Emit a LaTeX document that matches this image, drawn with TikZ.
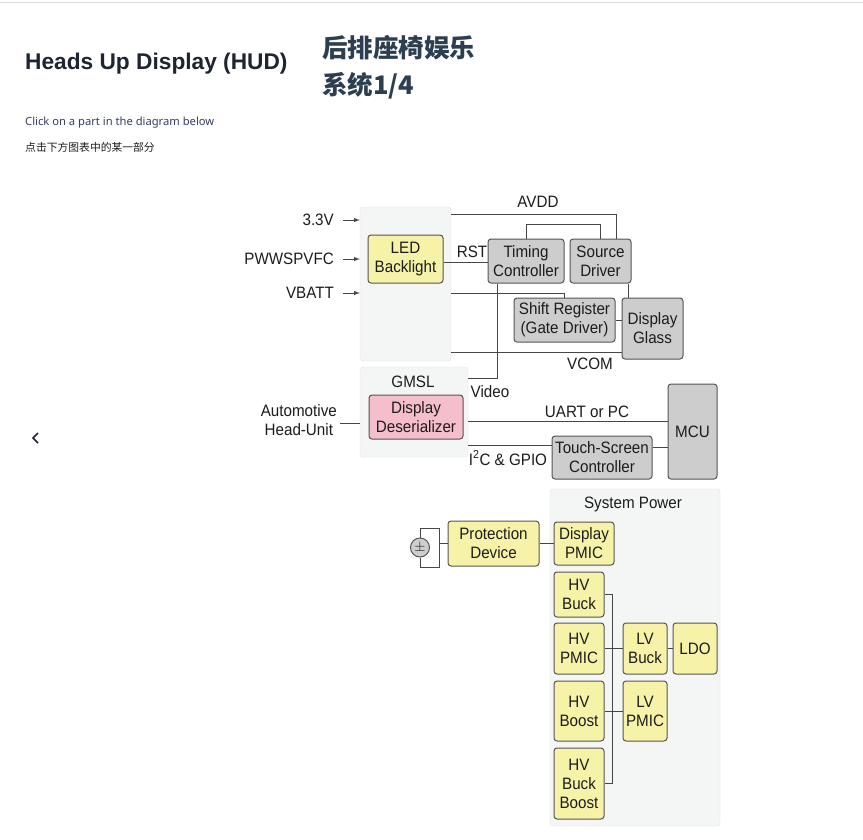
\documentclass[tikz,border=0pt]{standalone}
\usepackage{fontspec}
\usepackage{tikz}
\usetikzlibrary{arrows,shapes,positioning}

\newfontfamily\diagfont[FakeStretch=0.92]{Liberation Sans}
\newfontfamily\headfont{Noto Sans}
\newfontfamily\headboldfont{Liberation Sans}
\newfontfamily\cjkfont{Noto Sans CJK SC}

\definecolor{panelfill}{RGB}{244,245,245}
\definecolor{panelline}{RGB}{226,228,228}
\definecolor{yelfill}{RGB}{246,243,168}
\definecolor{grayfill}{RGB}{205,205,205}
\definecolor{pinkfill}{RGB}{244,190,203}
\definecolor{boxline}{RGB}{85,85,85}
\definecolor{wirecol}{RGB}{70,70,70}
\definecolor{inkcol}{RGB}{28,28,28}
\definecolor{headcol}{RGB}{30,37,48}
\definecolor{hintcol}{RGB}{52,62,96}
\definecolor{cjkcol}{RGB}{44,62,80}
\definecolor{rulecol}{RGB}{222,222,222}

\begin{document}
\begin{tikzpicture}[
        x=1pt, y=-1pt,
        every node/.style={inner sep=0, text=inkcol},
        diagtext/.style={font=\diagfont\fontsize{16.5}{19}\selectfont, align=center},
        panel/.style={draw=panelline, fill=panelfill, rounded corners=3pt},
        blockbox/.style={diagtext, draw=boxline, line width=1pt, rounded corners=3pt},
        yelbox/.style={blockbox, fill=yelfill},
        graybox/.style={blockbox, fill=grayfill},
        pinkbox/.style={blockbox, fill=pinkfill},
        wire/.style={draw=wirecol, line width=1pt},
        feed/.style={wire, ->, >=latex}
    ]
    \useasboundingbox (0,0) rectangle (863,839);
    \fill[white] (0,0) rectangle (863,839);
    \draw[rulecol, line width=1.2pt] (0,2.5) -- (863,2.5);

    % Headings
    \node (title) [anchor=west, text=headcol, font=\headboldfont\bfseries\fontsize{22.7}{26}\selectfont] at (25,64) {Heads Up Display (HUD)};
    \node (cjktop) [anchor=west, text=cjkcol, font=\cjkfont\bfseries\fontsize{25.5}{28}\selectfont] at (322,48) {后排座椅娱乐};
    \node (cjkbot) [anchor=west, text=cjkcol, font=\cjkfont\bfseries\fontsize{25.5}{28}\selectfont] at (322,86) {系统1/4};
    \node (hint) [anchor=west, text=hintcol, font=\headfont\fontsize{11.2}{13}\selectfont] at (25,123) {Click on a part in the diagram below};
    \node (cjkhint) [anchor=west, font=\cjkfont\fontsize{10.8}{12}\selectfont] at (25,147) {点击下方图表中的某一部分};
    \draw[headcol, line width=1.6pt] (38,433) -- (33,438) -- (38,443);

    % Panels
    \node (panel) [panel, minimum width=91, minimum height=154] at (405.5,284) {};
    \node (gmsl) [panel, minimum width=108, minimum height=90] at (414,412) {};
    \node (syspow) [panel, minimum width=170, minimum height=337] at (635,657.5) {};

    % Display blocks
    \node (led) [yelbox, minimum width=75, minimum height=48] at (405.5,259) {LED\\Backlight};
    \node (tcon) [graybox, minimum width=76, minimum height=44] at (526,261) {Timing\\Controller};
    \node (srcdrv) [graybox, minimum width=61, minimum height=44, right=5pt of tcon] {Source\\Driver};
    \node (shiftreg) [graybox, minimum width=101, minimum height=44] at (564.5,320) {Shift Register\\(Gate Driver)};
    \node (glass) [graybox, minimum width=61, minimum height=61] at (652.5,328.5) {Display\\Glass};
    \node (deser) [pinkbox, minimum width=94, minimum height=44] at (416,417) {Display\\Deserializer};
    \node (touch) [graybox, minimum width=100, minimum height=43] at (602,457.5) {Touch-Screen\\Controller};
    \node (mcu) [graybox, minimum width=49, minimum height=95] at (692.5,431.5) {MCU};

    % Power blocks
    \node (protect) [yelbox, minimum width=91, minimum height=45] at (493.5,543.5) {Protection\\Device};
    \node (dpmic) [yelbox, minimum width=60, minimum height=43] at (584,543.5) {Display\\PMIC};
    \node (hvbuck) [yelbox, minimum width=50, minimum height=45] at (579,594.5) {HV\\Buck};
    \node (hvpmic) [yelbox, minimum width=50, minimum height=51] at (579,648.5) {HV\\PMIC};
    \node (hvboost) [yelbox, minimum width=50, minimum height=60] at (579,711) {HV\\Boost};
    \node (hvbb) [yelbox, minimum width=50, minimum height=71] at (579,783.5) {HV\\Buck\\Boost};
    \node (lvbuck) [yelbox, minimum width=44, minimum height=51, right=18pt of hvpmic] {LV\\Buck};
    \node (ldo) [yelbox, minimum width=44, minimum height=51, right=5pt of lvbuck] {LDO};
    \node (lvpmic) [yelbox, minimum width=44, minimum height=60, right=18pt of hvboost] {LV\\PMIC};
    \node (batt) [circle, draw=boxline, line width=1pt, fill=grayfill, minimum size=19, font=\fontsize{15}{10}\selectfont] at (420,547.5) {$\pm$};

    % Labels
    \node (v33) [diagtext, anchor=east] at (334,220) {3.3V};
    \node (pwm) [diagtext, anchor=east] at (334,259) {PWWSPVFC};
    \node (vbatt) [diagtext, anchor=east] at (334,293) {VBATT};
    \node (hu) [diagtext, anchor=east] at (337,420.5) {Automotive\\Head-Unit};
    \node (avdd) [diagtext] at (538,202) {AVDD};
    \node (rst) [diagtext] at (472,252) {RST};
    \node (vcom) [diagtext] at (590,364) {VCOM};
    \node (video) [diagtext] at (490,392) {Video};
    \node (uart) [diagtext] at (587,412) {UART or PC};
    \node (iic) [diagtext] at (508,458) {I\textsuperscript{2}C \& GPIO};
    \node (gmsllbl) [diagtext] at (413,382) {GMSL};
    \node (powlbl) [diagtext] at (633,504) {System Power};

    % Inputs
    \draw[feed] ([xshift=9pt]v33.east) -- (v33.east -| panel.west);
    \draw[feed] ([xshift=9pt]pwm.east) -- (pwm.east -| panel.west);
    \draw[feed] ([xshift=9pt]vbatt.east) -- (vbatt.east -| panel.west);

    % Display wiring
    \draw[wire] ([yshift=-8pt]panel.north east) -| ([xshift=-15pt]srcdrv.north east);
    \draw[wire] (tcon.north) -- ++(0,-14) -| (srcdrv.north);
    \draw[wire] ([yshift=-3pt]led.east) -- ([yshift=-3pt]led.east -| tcon.west);
    \draw[wire] (panel.east |- vbatt) -| (shiftreg.north);
    \draw[wire] (shiftreg.east) -- (shiftreg.east -| glass.west);
    \draw[wire] ([xshift=-3pt]srcdrv.south east) -- ([xshift=-3pt]srcdrv.south east |- glass.north);
    \draw[wire] ([yshift=9pt]panel.south east) -- ([yshift=9pt]panel.south east -| glass.west);
    \draw[wire] ([xshift=-29pt]tcon.south) |- ([yshift=-12pt]gmsl.north east);
    \draw[wire] ([xshift=3pt,yshift=-2.5pt]hu.east) -- ([yshift=-2.5pt]hu.east -| gmsl.west);
    \draw[wire] ([yshift=-4pt]deser.east -| gmsl.east) -- ([yshift=-4pt]deser.east -| mcu.west);
    \draw[wire] ([yshift=12pt]touch.west -| gmsl.east) -- ([yshift=12pt]touch.west);
    \draw[wire] ([yshift=10.5pt]touch.east) -- ([yshift=10.5pt]touch.east -| mcu.west);

    % Power wiring
    \draw[wire] (batt.north) |- ([xshift=-8pt,yshift=15.5pt]protect.west) -- ([xshift=-8pt,yshift=-23.5pt]protect.west) -| (batt.south);
    \draw[wire] ([xshift=-8pt]protect.west) -- (protect.west);
    \draw[wire] (protect.east) -- (dpmic.west);
    \draw[wire] (hvbuck.east) -- ++(8,0) coordinate (hvbus) -- (hvbus |- hvbb.east) -- (hvbb.east);
    \draw[wire] (hvpmic.east) -- (lvbuck.west);
    \draw[wire] (lvbuck.east) -- (ldo.west);
    \draw[wire] (hvboost.east) -- (lvpmic.west);

\end{tikzpicture}
\end{document}
